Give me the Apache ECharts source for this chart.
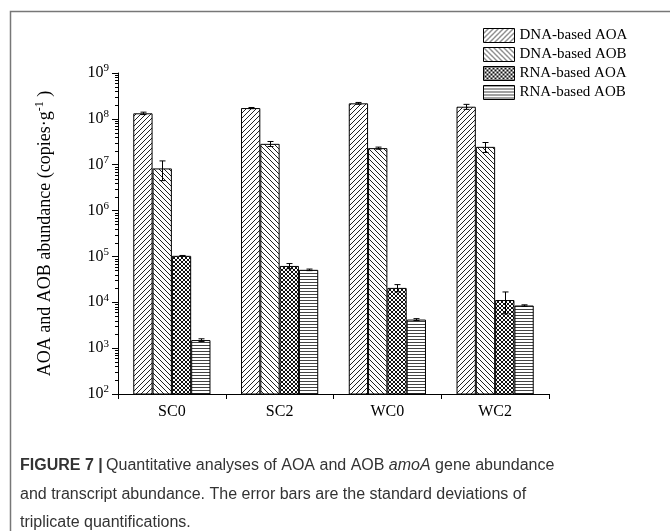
<!DOCTYPE html>
<html>
<head>
<meta charset="utf-8">
<script src="https://cdn.jsdelivr.net/npm/echarts@6/dist/echarts.min.js"></script>
<style>
html,body{margin:0;padding:0;background:#fff;}
#main{width:670px;height:531px;}
</style>
</head>
<body>
<div id="main"></div>
<script>
// ---- data ----
var categories = ['SC0', 'SC2', 'WC0', 'WC2'];
var seriesNames = ['DNA-based AOA', 'DNA-based AOB', 'RNA-based AOA', 'RNA-based AOB'];
var dnaAOA = [1.32e8, 1.72e8, 2.18e8, 1.84e8];
var dnaAOA_sd = [8e6, 5e6, 1e7, 2.3e7];
var dnaAOB = [8.3e6, 2.85e7, 2.3e7, 2.45e7];
var dnaAOB_sd = [3.8e6, 3.6e6, 1.2e6, 6e6];
var rnaAOA = [1.03e5, 6.2e4, 2.06e4, 1.12e4];
var rnaAOA_sd = [2e3, 8e3, 3.7e3, 5.6e3];
var rnaAOB = [1.5e3, 5.1e4, 4.2e3, 8.5e3];
var rnaAOB_sd = [1e2, 2e3, 2e2, 3e2];
var decadeValues = [1e2, 1e3, 1e4, 1e5, 1e6, 1e7, 1e8];
var minorMultipliers = [2, 3, 4, 5, 6, 7, 8, 9];

// ---- patterns ----
function makePattern(kind) {
  var c = document.createElement('canvas');
  var s = kind === 'h' ? 3 : (kind === 'x' ? 4 : 5);
  c.width = s; c.height = s;
  var g = c.getContext('2d');
  g.fillStyle = '#fff';
  g.fillRect(0, 0, s, s);
  g.strokeStyle = '#222';
  g.lineWidth = 1;
  function fwd() {
    g.beginPath();
    g.moveTo(-1, 1); g.lineTo(1, -1);
    g.moveTo(0, s); g.lineTo(s, 0);
    g.moveTo(s - 1, s + 1); g.lineTo(s + 1, s - 1);
    g.stroke();
  }
  function back() {
    g.beginPath();
    g.moveTo(-1, s - 1); g.lineTo(1, s + 1);
    g.moveTo(0, 0); g.lineTo(s, s);
    g.moveTo(s - 1, -1); g.lineTo(s + 1, 1);
    g.stroke();
  }
  if (kind === 'f') fwd();
  else if (kind === 'b') back();
  else if (kind === 'x') { g.strokeStyle = '#111'; fwd(); back(); }
  else if (kind === 'h') {
    g.strokeStyle = '#444';
    g.beginPath(); g.moveTo(0, 0.5); g.lineTo(s, 0.5); g.stroke();
  }
  return { image: c, repeat: 'repeat' };
}
var patterns = [makePattern('f'), makePattern('b'), makePattern('x'), makePattern('h')];

var values = [dnaAOA, dnaAOB, rnaAOA, rnaAOB];
var sds = [dnaAOA_sd, dnaAOB_sd, rnaAOA_sd, rnaAOB_sd];
var BAR_W = 19.3;

var chart = echarts.init(document.getElementById('main'), null, { renderer: 'canvas' });

var serif = 'Liberation Serif';
var sans = 'Liberation Sans';

var minorVals = [];
decadeValues.forEach(function (d) {
  minorMultipliers.forEach(function (m) { minorVals.push([0, d * m]); });
});

var series = [];
seriesNames.forEach(function (name, i) {
  series.push({
    name: name,
    type: 'bar',
    barWidth: BAR_W,
    barGap: '0%',
    data: values[i],
    itemStyle: { color: patterns[i], borderColor: '#000', borderWidth: 1 },
    z: 2,
    silent: true
  });
});
seriesNames.forEach(function (name, i) {
  var offset = (i - 1.5) * BAR_W;
  series.push({
    name: 'err' + i,
    type: 'custom',
    z: 5,
    silent: true,
    data: values[i].map(function (v, k) { return [k, v, sds[i][k]]; }),
    encode: { x: 0, y: 1 },
    renderItem: function (params, api) {
      var cat = api.value(0), v = api.value(1), sd = api.value(2);
      var x = Math.round(api.coord([cat, v])[0] + offset) + 0.5;
      var yHi = api.coord([cat, v + sd])[1];
      var yLo = api.coord([cat, Math.max(v - sd, 100)])[1];
      var w = 3;
      var st = { stroke: '#000', lineWidth: 1 };
      return {
        type: 'group',
        children: [
          { type: 'line', shape: { x1: x, y1: yHi, x2: x, y2: yLo }, style: st },
          { type: 'line', shape: { x1: x - w, y1: yHi, x2: x + w, y2: yHi }, style: st },
          { type: 'line', shape: { x1: x - w, y1: yLo, x2: x + w, y2: yLo }, style: st }
        ]
      };
    }
  });
});
// minor log ticks on the y axis
series.push({
  name: 'minorTicks',
  type: 'custom',
  z: 6,
  silent: true,
  clip: false,
  data: minorVals,
  encode: { x: 0, y: 1 },
  renderItem: function (params, api) {
    var y = Math.round(api.coord([0, api.value(1)])[1]) + 0.5;
    var x0 = params.coordSys.x;
    return { type: 'line', shape: { x1: x0 - 3, y1: y, x2: x0, y2: y }, style: { stroke: '#000', lineWidth: 1 } };
  }
});

var option = {
  animation: false,
  backgroundColor: '#fff',
  grid: { left: 118, right: 121, top: 73, bottom: 137 },
  legend: {
    data: seriesNames,
    orient: 'vertical',
    left: 483,
    top: 28,
    padding: 0,
    itemWidth: 31,
    itemHeight: 14,
    itemGap: 4,
    icon: 'rect',
    itemStyle: { borderColor: '#000', borderWidth: 1 },
    textStyle: { fontFamily: serif, fontSize: 15, color: '#000' },
    selectedMode: false
  },
  xAxis: {
    type: 'category',
    data: categories,
    axisLine: { lineStyle: { color: '#000', width: 1 } },
    axisTick: { show: true, length: 5, inside: false, lineStyle: { color: '#000' } },
    axisLabel: { fontFamily: serif, fontSize: 16, color: '#000', margin: 10 },
    splitLine: { show: false }
  },
  yAxis: {
    type: 'log',
    logBase: 10,
    min: 100,
    max: 1e9,
    interval: 1,
    splitNumber: 7,
    axisLine: { show: true, lineStyle: { color: '#000', width: 1 } },
    axisTick: { show: true, length: 6, lineStyle: { color: '#000' } },
    splitLine: { show: false },
    axisLabel: {
      margin: 9,
      color: '#000',
      fontFamily: serif,
      fontSize: 16,
      formatter: function (v) { return '10{s|' + Math.round(Math.log10(v)) + '}'; },
      rich: { s: { fontFamily: serif, fontSize: 11, color: '#000', padding: [0, 0, 9, 0] } }
    },
    name: 'AOA and AOB abundance (copies·g{s|-1} )',
    nameLocation: 'middle',
    nameGap: 62,
    nameRotate: 90,
    nameTextStyle: {
      fontFamily: serif, fontSize: 18, color: '#000',
      rich: { s: { fontFamily: serif, fontSize: 12, color: '#000', padding: [0, 0, 10, 0] } }
    }
  },
  graphic: [
    {
      type: 'polyline', silent: true,
      shape: { points: [[10.5, 531], [10.5, 11.5], [670, 11.5]] },
      style: { stroke: '#777', lineWidth: 1.5, fill: null }
    },
    {
      type: 'text', left: 20, top: 458, silent: true,
      style: {
        text: '{b|FIGURE 7 |} {n|Quantitative analyses of AOA and AOB }{i|amoA}{n| gene abundance}',
        rich: {
          b: { fontFamily: sans, fontSize: 16, fontWeight: 'bold', fill: '#333' },
          n: { fontFamily: sans, fontSize: 16, fill: '#333' },
          i: { fontFamily: sans, fontSize: 16, fontStyle: 'italic', fill: '#333' }
        }
      }
    },
    {
      type: 'text', left: 20, top: 486.5, silent: true,
      style: { text: 'and transcript abundance. The error bars are the standard deviations of', fontFamily: sans, fontSize: 16, fill: '#333' }
    },
    {
      type: 'text', left: 20, top: 515, silent: true,
      style: { text: 'triplicate quantifications.', fontFamily: sans, fontSize: 16, fill: '#333' }
    }
  ],
  series: series
};
chart.setOption(option);
</script>
</body>
</html>
